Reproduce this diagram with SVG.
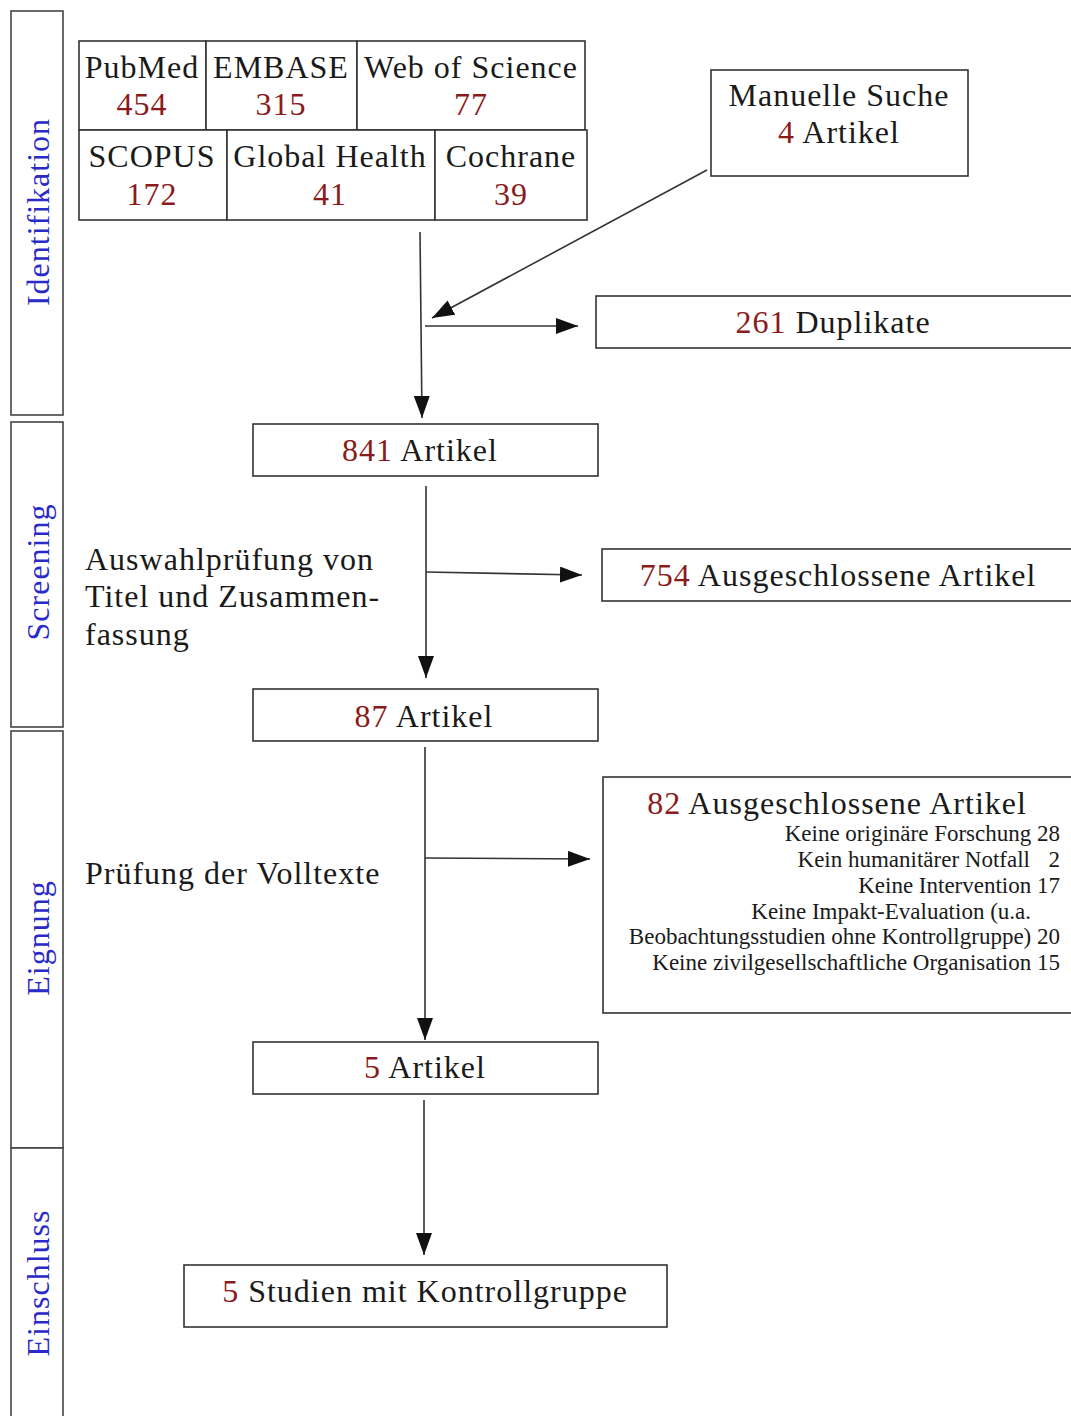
<svg xmlns="http://www.w3.org/2000/svg" width="1071" height="1416" viewBox="0 0 1071 1416">
<style>
text{font-family:"Liberation Serif","DejaVu Serif",serif;fill:#1a1a1a}
.t{font-size:32px;letter-spacing:1px;text-anchor:middle}
.l{font-size:32px;letter-spacing:1px}
.n{fill:#8b1a1a}
.s{font-size:23px;text-anchor:end}
.side{font-size:32px;letter-spacing:1px;fill:#2a2ac8;text-anchor:middle}
.box{fill:#fff;stroke:#333;stroke-width:1.6}
.lane{fill:#fff;stroke:#444;stroke-width:1.6}
.c{stroke:#333;stroke-width:1.6;fill:none;marker-end:url(#ah)}
</style>
<defs>
<marker id="ah" markerUnits="userSpaceOnUse" markerWidth="24" markerHeight="18" refX="22" refY="8" orient="auto">
<path d="M0,0 L22,8 L0,16 Z" fill="#111"/>
</marker>
</defs>
<rect width="1071" height="1416" fill="#fff"/>
<g id="lanes">
<g id="lane-identifikation"><rect class="lane" x="11" y="11" width="52" height="404"/><text class="side" transform="translate(49,212) rotate(-90)">Identifikation</text></g>
<g id="lane-screening"><rect class="lane" x="11" y="422" width="52" height="305"/><text class="side" transform="translate(49,572) rotate(-90)">Screening</text></g>
<g id="lane-eignung"><rect class="lane" x="11" y="731" width="52" height="417"/><text class="side" transform="translate(49,938) rotate(-90)">Eignung</text></g>
<g id="lane-einschluss"><rect class="lane" x="11" y="1148" width="52" height="280"/><text class="side" transform="translate(49,1283) rotate(-90)">Einschluss</text></g>
</g>
<g id="databases">
<g id="pubmed"><rect class="box" x="79" y="41" width="127" height="89"/><text class="t" x="142" y="78">PubMed</text><text class="t n" x="142" y="115">454</text></g>
<g id="embase"><rect class="box" x="206" y="41" width="151" height="89"/><text class="t" x="281" y="78">EMBASE</text><text class="t n" x="281" y="115">315</text></g>
<g id="wos"><rect class="box" x="357" y="41" width="228" height="89"/><text class="t" x="471" y="78">Web of Science</text><text class="t n" x="471" y="115">77</text></g>
<g id="scopus"><rect class="box" x="79" y="130" width="148" height="90"/><text class="t" x="152" y="167">SCOPUS</text><text class="t n" x="152" y="205">172</text></g>
<g id="globalhealth"><rect class="box" x="227" y="130" width="208" height="90"/><text class="t" x="330" y="167">Global Health</text><text class="t n" x="330" y="205">41</text></g>
<g id="cochrane"><rect class="box" x="435" y="130" width="152" height="90"/><text class="t" x="511" y="167">Cochrane</text><text class="t n" x="511" y="205">39</text></g>
</g>
<g id="manuell"><rect class="box" x="711" y="70" width="257" height="106"/><text class="t" x="839" y="106">Manuelle Suche</text><text class="t" x="839" y="143"><tspan class="n">4</tspan> Artikel</text></g>
<g id="duplikate"><rect class="box" x="596" y="296" width="480" height="52"/><text class="t" x="833" y="333"><tspan class="n">261</tspan> Duplikate</text></g>
<g id="a841"><rect class="box" x="253" y="424" width="345" height="52"/><text class="t" x="420" y="461"><tspan class="n">841</tspan> Artikel</text></g>
<g id="screen-label"><text class="l" x="85" y="570">Auswahlprüfung von</text><text class="l" x="85" y="607">Titel und Zusammen-</text><text class="l" x="85" y="645">fassung</text></g>
<g id="ex754"><rect class="box" x="602" y="549" width="474" height="52"/><text class="t" x="838" y="586"><tspan class="n">754</tspan> Ausgeschlossene Artikel</text></g>
<g id="a87"><rect class="box" x="253" y="689" width="345" height="52"/><text class="t" x="424" y="727"><tspan class="n">87</tspan> Artikel</text></g>
<g id="volltext-label"><text class="l" x="85" y="884">Prüfung der Volltexte</text></g>
<g id="ex82"><rect class="box" x="603" y="777" width="473" height="236"/>
<text class="t" x="837" y="814"><tspan class="n">82</tspan> Ausgeschlossene Artikel</text>
<text class="s" x="1060" y="841">Keine originäre Forschung 28</text>
<text class="s" x="1030" y="867">Kein humanitärer Notfall</text>
<text class="s" x="1060" y="867">2</text>
<text class="s" x="1060" y="893">Keine Intervention 17</text>
<text class="s" x="1031" y="919">Keine Impakt-Evaluation (u.a.</text>
<text class="s" x="1060" y="944">Beobachtungsstudien ohne Kontrollgruppe) 20</text>
<text class="s" x="1060" y="970">Keine zivilgesellschaftliche Organisation 15</text>
</g>
<g id="a5"><rect class="box" x="253" y="1042" width="345" height="52"/><text class="t" x="425" y="1078"><tspan class="n">5</tspan> Artikel</text></g>
<g id="studien"><rect class="box" x="184" y="1265" width="483" height="62"/><text class="t" x="425" y="1302"><tspan class="n">5</tspan> Studien mit Kontrollgruppe</text></g>
<g id="connectors">
<path class="c" d="M420,232 L422,418"/>
<path class="c" d="M707,170 L432,318"/>
<path class="c" d="M425,326 L578,326"/>
<path class="c" d="M426,486 L426,678"/>
<path class="c" d="M426,572 L582,575"/>
<path class="c" d="M425,747 L425,1040"/>
<path class="c" d="M425,858 L590,859"/>
<path class="c" d="M424,1100 L424,1255"/>
</g>
</svg>
